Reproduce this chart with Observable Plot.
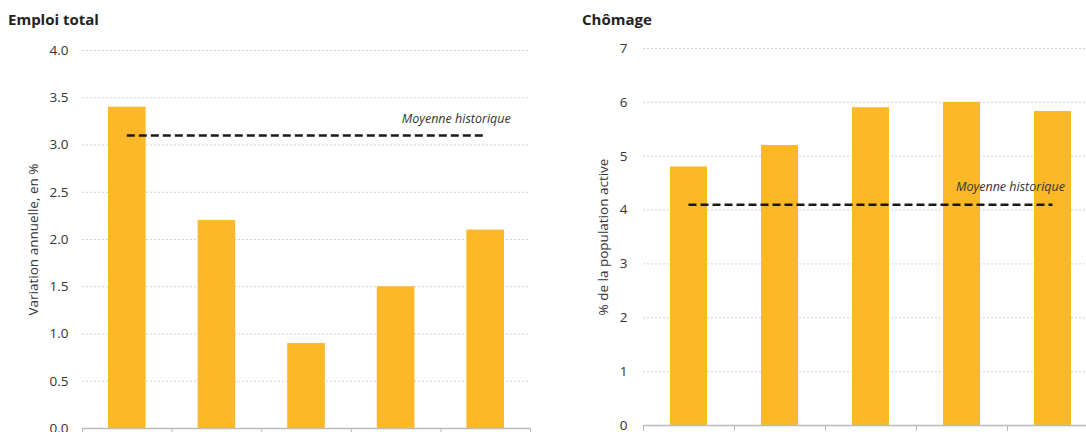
<!DOCTYPE html>
<html><head><meta charset="utf-8">
<script src="https://cdn.jsdelivr.net/npm/d3@7"></script>
<script src="https://cdn.jsdelivr.net/npm/@observablehq/plot@0.6"></script>
<style>
body{margin:0;width:1086px;height:432px;overflow:hidden;position:relative;background:#fff;font-family:"Open Sans",sans-serif;}
.panel{position:absolute;}
.panel svg{max-width:none !important;}
.title{position:absolute;font-weight:bold;font-size:15px;color:#222;}
</style></head><body>
<div class="title" style="left:8px;top:9px">Emploi total</div>
<div class="title" style="left:582px;top:9px">Chômage</div>
<div id="c1" class="panel" style="left:0;top:40px;width:545px"></div>
<div id="c2" class="panel" style="left:543px;top:38px;width:565px"></div>
<script>
const categories = ["P1", "P2", "P3", "P4", "P5"];
const emploi = [3.4, 2.2, 0.9, 1.5, 2.1];
const chomage = [4.8, 5.2, 5.9, 6.0, 5.83];
const emploiMoyenne = 3.1;
const chomageMoyenne = 4.1;
const emploiTicks = [0, 0.5, 1.0, 1.5, 2.0, 2.5, 3.0, 3.5, 4.0];
const chomageTicks = [0, 1, 2, 3, 4, 5, 6, 7];
const meanLabel = "Moyenne historique";

function panel({values, mean, ticks, fmt, label, width, height, marginLeft, marginRight, labelOffset, tickPadding, textDx, textDy, inset}) {
  const data = categories.map((c, i) => ({c, i, v: values[i]}));
  const n = data.length;
  return Plot.plot({
    width, height,
    marginTop: 10, marginBottom: 30, marginLeft, marginRight,
    style: {fontFamily: "'Open Sans', sans-serif", fontSize: "13px", color: "#333", background: "#fff"},
    x: {type: "linear", domain: [0, n]},
    y: {domain: [ticks[0], ticks[ticks.length - 1]]},
    marks: [
      Plot.gridY(ticks.slice(1), {stroke: "#d2d2d2", strokeOpacity: 1, strokeDasharray: "2,2"}),
      Plot.axisY({ticks, tickSize: 0, tickPadding, tickFormat: fmt, label, labelAnchor: "center", labelArrow: "none", labelOffset, fontSize: 13.5}),
      Plot.axisX({ticks: d3.range(n + 1), tickFormat: () => "", tickSize: 6, stroke: "#bbb", label: null}),
      Plot.rectY(data, {x1: d => d.i, x2: d => d.i + 1, y: "v", insetLeft: inset, insetRight: inset, fill: "#FDB827"}),
      Plot.ruleY([0], {stroke: "#bbb", strokeWidth: 1.5}),
      Plot.ruleY([mean], {x1: data[0].i + 0.5, x2: data[n - 1].i + 0.5, stroke: "#1a1a1a", strokeWidth: 2.5, strokeDasharray: "8,4"}),
      Plot.text([mean], {x: data[n - 1].i + 0.5, y: d => d, text: () => meanLabel, textAnchor: "end", dx: textDx, dy: textDy, fontStyle: "italic", fontSize: 12.5, fill: "#333"})
    ]
  });
}

document.getElementById("c1").append(panel({
  values: emploi, mean: emploiMoyenne, ticks: emploiTicks, fmt: d3.format(".1f"),
  label: "Variation annuelle, en %", width: 545, height: 418, marginLeft: 82, marginRight: 15,
  labelOffset: 54, tickPadding: 14, textDx: 25, textDy: -17, inset: 26
}));
document.getElementById("c2").append(panel({
  values: chomage, mean: chomageMoyenne, ticks: chomageTicks, fmt: d3.format("d"),
  label: "% de la population active", width: 565, height: 417, marginLeft: 100, marginRight: 10,
  labelOffset: 45, tickPadding: 16, textDx: 12, textDy: -18, inset: 27
}));
</script>
</body></html>
